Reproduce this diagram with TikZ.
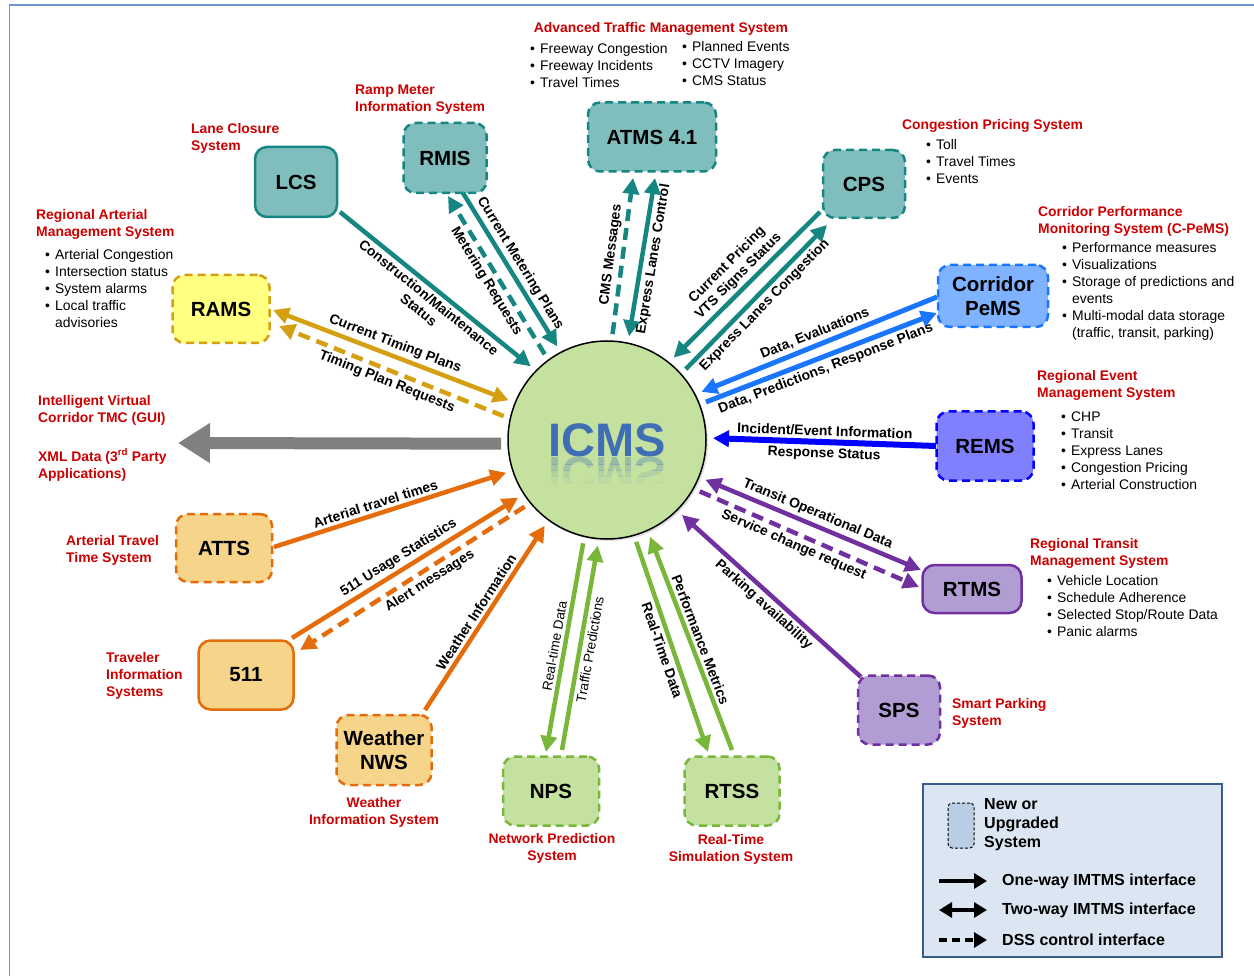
\documentclass[tikz,border=0pt]{standalone}
\usepackage{fontspec}
\setmainfont{Liberation Sans}
\usepackage{graphicx}
\usetikzlibrary{arrows.meta,shadows}
\definecolor{tealc}{RGB}{22,134,130}
\definecolor{tealf}{RGB}{127,190,188}
\definecolor{goldc}{RGB}{212,160,18}
\definecolor{ramsf}{RGB}{255,255,128}
\definecolor{orangec}{RGB}{228,108,10}
\definecolor{orangef}{RGB}{246,212,138}
\definecolor{greenc}{RGB}{121,183,58}
\definecolor{greenf}{RGB}{197,225,162}
\definecolor{purpc}{RGB}{112,48,160}
\definecolor{purpf}{RGB}{177,157,212}
\definecolor{pemsc}{RGB}{26,117,255}
\definecolor{pemsf}{RGB}{128,179,255}
\definecolor{remsc}{RGB}{0,0,255}
\definecolor{remsf}{RGB}{128,128,255}
\definecolor{redt}{RGB}{204,0,0}
\definecolor{icmsf}{RGB}{196,225,160}
\definecolor{icmst}{RGB}{63,110,180}
\definecolor{framec}{RGB}{110,150,205}
\definecolor{legf}{RGB}{220,230,242}
\definecolor{legc}{RGB}{56,93,138}
\definecolor{legbox}{RGB}{185,205,229}
\definecolor{grayc}{RGB}{128,128,128}
\newcommand{\bl}{\makebox[10pt][l]{\textbullet}}
\newcommand{\nb}{\hspace*{10pt}}

\begin{document}
\begin{tikzpicture}[x=1pt,y=-1pt,
	box/.style={rounded corners=12pt,minimum width=96pt,minimum height=69pt,line width=2.5pt,inner sep=2pt,align=center,font=\fontsize{20.5}{24}\selectfont\bfseries},
	upgraded/.style={dash pattern=on 8pt off 5pt},
	tealbox/.style={box,draw=tealc,fill=tealf},
	goldbox/.style={box,draw=goldc,fill=ramsf},
	orangebox/.style={box,draw=orangec,fill=orangef},
	greenbox/.style={box,draw=greenc,fill=greenf},
	purpbox/.style={box,draw=purpc,fill=purpf},
	title/.style={font=\fontsize{13.9}{17}\selectfont\bfseries,text=redt,align=left,inner sep=0pt},
	items/.style={font=\fontsize{13.9}{17}\selectfont,align=left,inner sep=0pt,anchor=west},
	link/.style={line width=4.5pt,-{Triangle[length=16pt,width=16pt]}},
	twoway/.style={line width=4.5pt,{Triangle[length=16pt,width=16pt]}-{Triangle[length=16pt,width=16pt]}},
	dss/.style={link,dash pattern=on 12pt off 7pt},
	lbl/.style={font=\fontsize{13.9}{16}\selectfont\bfseries,text=black,sloped,align=center,inner sep=3pt},
	lbl2/.style={lbl,font=\fontsize{13.5}{16}\selectfont},
	lgd/.style={font=\fontsize{16}{19}\selectfont\bfseries,align=left,inner sep=0pt,anchor=west},
	key/.style={line width=3.5pt,-{Triangle[length=13pt,width=15pt]}},
	icmsfont/.style={text=icmst,font=\fontsize{47}{50}\selectfont\bfseries}]
	\useasboundingbox (0,0) rectangle (1254,976);
	\draw[framec,line width=1.5pt] (1254,5) -- (9.5,5) -- (9.5,976);

	\node[circle,draw,line width=1.5pt,fill=icmsf,minimum size=198pt,outer sep=7pt,drop shadow={opacity=.25,shadow xshift=2pt,shadow yshift=-2pt},icmsfont] (icms) at (607,440) {ICMS};
	\foreach \ya/\yb/\op in {457/464/.32,464/470/.22,470/476/.13,476/483/.06}{
		\begin{scope}
			\clip (550,\ya) rectangle (665,\yb);
			\node[icmsfont,text opacity=\op,inner sep=0pt,anchor=north] (icmsr\ya) at (607,457) {\scalebox{1}[-1]{ICMS}};
		\end{scope}
	}

	\node[tealbox,upgraded,minimum width=128pt] (atms) at (652,137) {ATMS 4.1};
	\node[tealbox,upgraded,minimum width=83pt,minimum height=70pt] (rmis) at (445,158) {RMIS};
	\node[tealbox,minimum width=82pt,minimum height=70pt] (lcs) at (296,182) {LCS};
	\node[tealbox,upgraded,minimum width=82pt,minimum height=68pt] (cps) at (864,184) {CPS};
	\node[box,upgraded,draw=pemsc,fill=pemsf,minimum width=110pt,minimum height=62pt] (pems) at (993,296) {Corridor\\PeMS};
	\node[box,upgraded,draw=remsc,fill=remsf,minimum width=97pt] (rems) at (985,446) {REMS};
	\node[purpbox,minimum width=99pt,minimum height=48pt] (rtms) at (972,589) {RTMS};
	\node[purpbox,upgraded,minimum width=82pt] (sps) at (899,710) {SPS};
	\node[greenbox,upgraded,minimum width=95pt] (rtss) at (732,791) {RTSS};
	\node[greenbox,upgraded] (nps) at (551,791) {NPS};
	\node[orangebox,upgraded,minimum width=95pt,minimum height=70pt] (nws) at (384,750) {Weather\\NWS};
	\node[orangebox,minimum width=95pt] (tis) at (246,675) {511};
	\node[orangebox,upgraded,minimum height=68pt] (atts) at (224,548) {ATTS};
	\node[goldbox,upgraded,minimum width=97pt,minimum height=68pt] (rams) at (221,309) {RAMS};

	\node[title,align=center] (atms-t) at (661,29) {Advanced Traffic Management System};
	\node[items] (atms-l1) at (530,66) {\bl Freeway Congestion\\\bl Freeway Incidents\\\bl Travel Times};
	\node[items] (atms-l2) at (682,64) {\bl Planned Events\\\bl CCTV Imagery\\\bl CMS Status};
	\node[title,anchor=west] (rmis-t) at (355,100) {Ramp Meter\\Information System};
	\node[title,anchor=west] (lcs-t) at (191,138.5) {Lane Closure\\System};
	\node[title,anchor=west] (rams-t) at (36,224.5) {Regional Arterial\\Management System};
	\node[items] (rams-l) at (45,289) {\bl Arterial Congestion\\\bl Intersection status\\\bl System alarms\\\bl Local traffic\\\nb advisories};
	\node[title,anchor=west] (cps-t) at (902,126) {Congestion Pricing System};
	\node[items] (cps-l) at (926,162) {\bl Toll\\\bl Travel Times\\\bl Events};
	\node[title,anchor=west] (pems-t) at (1038,221) {Corridor Performance\\Monitoring System (C-PeMS)};
	\node[items] (pems-l) at (1062,291) {\bl Performance measures\\\bl Visualizations\\\bl Storage of predictions and\\\nb events\\\bl Multi-modal data storage\\\nb (traffic, transit, parking)};
	\node[title,anchor=west] (rems-t) at (1037,385) {Regional Event\\Management System};
	\node[items] (rems-l) at (1061,450.5) {\bl CHP\\\bl Transit\\\bl Express Lanes\\\bl Congestion Pricing\\\bl Arterial Construction};
	\node[title,anchor=west] (rtms-t) at (1030,553) {Regional Transit\\Management System};
	\node[items] (rtms-l) at (1047,606.5) {\bl Vehicle Location\\\bl Schedule Adherence\\\bl Selected Stop/Route Data\\\bl Panic alarms};
	\node[title,anchor=west] (sps-t) at (952,713.5) {Smart Parking\\System};
	\node[title,align=center] (rtss-t) at (731,849) {Real-Time\\Simulation System};
	\node[title,align=center] (nps-t) at (552,848.5) {Network Prediction\\System};
	\node[title,align=center] (nws-t) at (374,812.5) {Weather\\Information System};
	\node[title,anchor=west] (tis-t) at (106,675.5) {Traveler\\Information\\Systems};
	\node[title,anchor=west] (atts-t) at (66,550.5) {Arterial Travel\\Time System};
	\node[title,anchor=west] (gui-t) at (38,410.5) {Intelligent Virtual\\Corridor TMC (GUI)};
	\node[title,anchor=west] (xml-t) at (38,465) {XML Data (3\textsuperscript{rd} Party\\Applications)};

	\draw[link,tealc] ([shift={(44,30)}]lcs.center) -- node[lbl,below]{Construction/Maintenance\\Status} (icms.136);
	\draw[link,tealc] ([shift={(18,35)}]rmis.center) -- node[lbl,above]{Current Metering Plans} (icms.118);
	\draw[dss,tealc] (icms.126) -- node[lbl,below]{Metering Requests} ([shift={(3,38)}]rmis.center);
	\draw[dss,tealc] (icms.87) -- node[lbl,above]{CMS Messages} ([shift={(-19,41)}]atms.center);
	\draw[twoway,tealc] (icms.78) -- node[lbl,below]{Express Lanes Control} ([shift={(3,41)}]atms.center);
	\draw[link,tealc] ([shift={(-44,28)}]cps.center) -- node[lbl,above]{Current Pricing\\VTS Signs Status} (icms.51);
	\draw[link,tealc] (icms.42) -- node[lbl,below]{Express Lanes Congestion} ([shift={(-37,41)}]cps.center);
	\draw[link,pemsc,line width=5pt] ([shift={(-56,1)}]pems.center) -- node[lbl,above]{Data, Evaluations} (icms.27);
	\draw[link,pemsc,line width=5pt] (icms.21) -- node[lbl,below]{Data, Predictions, Response Plans} ([shift={(-56,17)}]pems.center);
	\draw[link,remsc,line width=6pt] ([shift={(-49,0)}]rems.center) -- node[lbl,above]{Incident/Event Information} node[lbl,below]{Response Status} (icms.1);
	\draw[twoway,purpc] (icms.-22) -- node[lbl,above]{Transit Operational Data} ([shift={(-51,-19)}]rtms.center);
	\draw[dss,purpc] (icms.-29) -- node[lbl,below,pos=.45]{Service change request} ([shift={(-53,-2)}]rtms.center);
	\draw[link,purpc] ([shift={(-38,-33)}]sps.center) -- node[lbl,below]{Parking availability} (icms.-45);
	\draw[link,greenc] (icms.-74) -- node[lbl,below]{Real-Time Data} ([shift={(-24,-39)}]rtss.center);
	\draw[link,greenc] ([shift={(0,-41)}]rtss.center) -- node[lbl,above]{Performance Metrics} (icms.-66);
	\draw[link,greenc] (icms.-103) -- node[lbl2,above]{Real-time Data} ([shift={(-5,-39)}]nps.center);
	\draw[link,greenc] ([shift={(11,-41)}]nps.center) -- node[lbl2,below]{Traffic Predictions} (icms.-95);
	\draw[link,orangec] ([shift={(41,-40)}]nws.center) -- node[lbl,above]{Weather Information} (icms.-126);
	\draw[link,orangec] ([shift={(46,-37)}]tis.center) -- node[lbl,above]{511 Usage Statistics} (icms.-147);
	\draw[dss,orangec] (icms.-141) -- node[lbl,below,pos=.45]{Alert messages} ([shift={(54,-25)}]tis.center);
	\draw[link,orangec] ([shift={(50,-1)}]atts.center) -- node[lbl,above,pos=.45]{Arterial travel times} (icms.-162);
	\draw[twoway,goldc] ([shift={(52,1)}]rams.center) -- node[lbl,above]{Current Timing Plans} (icms.158);
	\draw[dss,goldc] (icms.167) -- node[lbl,below]{Timing Plan Requests} ([shift={(58,17)}]rams.center);
	\coordinate (gui) at (178,443);
	\draw[grayc,line width=12pt,-{Triangle[length=32pt,width=38pt]}] (icms.182) -- (gui);

	\draw[legc,fill=legf,line width=2pt] (923,784) rectangle (1222,957);
	\node[draw=black,fill=legbox,rounded corners=4pt,dash pattern=on 3pt off 2pt,line width=1pt,minimum width=26pt,minimum height=45pt] (key) at (961,825.5) {};
	\node[lgd] (key-t) at (984,825) {New or\\Upgraded\\System};
	\coordinate (k1a) at (939,881); \coordinate (k1b) at (987,881);
	\coordinate (k2a) at (939,910); \coordinate (k2b) at (987,910);
	\coordinate (k3a) at (939,940); \coordinate (k3b) at (987,940);
	\draw[key] (k1a) -- (k1b);
	\draw[key,{Triangle[length=13pt,width=15pt]}-{Triangle[length=13pt,width=15pt]}] (k2a) -- (k2b);
	\draw[key,dash pattern=on 8pt off 5pt] (k3a) -- (k3b);
	\node[lgd] (k1-t) at (1002,881) {One-way IMTMS interface};
	\node[lgd] (k2-t) at (1002,910) {Two-way IMTMS interface};
	\node[lgd] (k3-t) at (1002,940) {DSS control interface};
\end{tikzpicture}
\end{document}
